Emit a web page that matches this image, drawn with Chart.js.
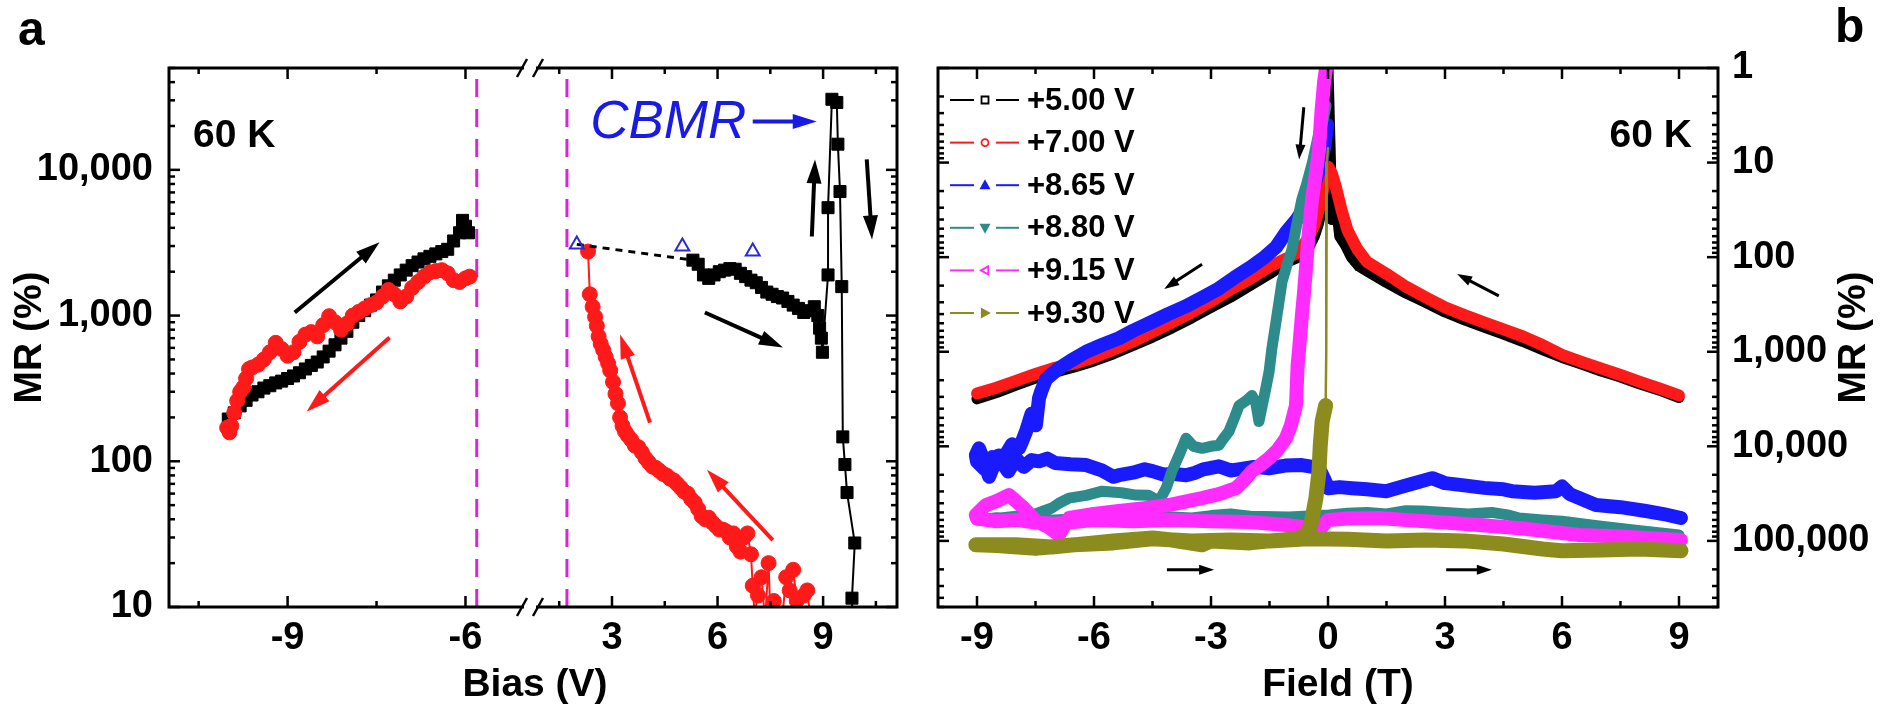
<!DOCTYPE html>
<html><head><meta charset="utf-8">
<script src="https://cdn.jsdelivr.net/npm/chart.js@4.4.1/dist/chart.umd.min.js"></script>
<style>
html,body{margin:0;padding:0;background:#fff;overflow:hidden;}
#wrap{position:relative;width:1882px;height:708px;background:#fff;}
canvas{position:absolute;top:0;}
#ca{left:0;} #cb{left:920px;}
</style></head><body>
<div id="wrap"><canvas id="ca" width="920" height="708"></canvas><canvas id="cb" width="962" height="708"></canvas></div>
<script>
// ================= Panel a data (Bias sweep, 60 K) =================
const biasBlackL = [-10.0,-9.9,-9.8,-9.7,-9.6,-9.5,-9.4,-9.3,-9.2,-9.1,-9.0,-8.9,-8.8,-8.7,-8.6,-8.5,-8.4,-8.3,-8.2,-8.1,-8.0,-7.9,-7.8,-7.7,-7.6,-7.5,-7.4,-7.3,-7.2,-7.1,-7.0,-6.9,-6.8,-6.7,-6.6,-6.5,-6.4,-6.3,-6.2,-6.1,-6.05,-6.0,-5.95];
const mrBlackL   = [195,215,240,262,285,300,318,330,345,355,370,385,405,430,455,480,520,570,630,700,780,900,1000,1080,1180,1280,1450,1600,1750,1900,2050,2200,2330,2450,2550,2650,2750,2850,3250,3700,4500,4100,3700];
const biasRedL = [-10.02,-9.98,-9.95,-9.9,-9.85,-9.8,-9.75,-9.7,-9.65,-9.6,-9.5,-9.4,-9.3,-9.2,-9.1,-9.0,-8.9,-8.8,-8.7,-8.6,-8.5,-8.4,-8.3,-8.2,-8.1,-8.0,-7.9,-7.8,-7.7,-7.6,-7.5,-7.4,-7.3,-7.2,-7.1,-7.0,-6.9,-6.8,-6.7,-6.6,-6.5,-6.4,-6.3,-6.2,-6.1,-6.0,-5.93];
const mrRedL   = [170,158,175,215,260,300,320,370,430,440,460,500,560,650,590,530,560,660,740,770,720,860,990,900,800,880,1000,1060,1120,1180,1230,1350,1500,1400,1250,1350,1550,1700,1850,1980,2020,2050,1950,1750,1700,1800,1850];
const biasBlackR = [5.3,5.45,5.6,5.75,5.9,6.05,6.2,6.35,6.5,6.65,6.8,6.95,7.1,7.25,7.4,7.55,7.7,7.85,8.0,8.15,8.3,8.45,8.6,8.75,8.85,8.9,8.95,8.98,9.14,9.14,9.25,9.39,9.42,9.48,9.53,9.56,9.62,9.68,9.9,9.82,9.85];
const mrBlackR   = [2400,2250,1900,1800,1900,2000,2050,2100,2080,1950,1850,1750,1680,1560,1450,1400,1350,1320,1250,1180,1120,1050,1080,1150,1000,820,700,560,1900,5500,30500,29000,15000,7100,1580,147,95,61,27.5,11.5,6];
const biasRedR = [2.32,2.37,2.45,2.52,2.57,2.62,2.68,2.75,2.82,2.89,2.95,3.03,3.1,3.17,3.23,3.3,3.37,3.45,3.55,3.65,3.75,3.85,3.95,4.05,4.15,4.25,4.35,4.45,4.55,4.65,4.75,4.85,4.95,5.05,5.15,5.25,5.35,5.45,5.55,5.65,5.75,5.85,5.95,6.05,6.15,6.25,6.35,6.45,6.55,6.65,6.75,6.85,6.95,7.0,7.05,7.15,7.25,7.35,7.45,7.5,7.6,7.85,7.95,8.05,8.15,8.25,8.35,8.45,8.55,8.65];
const mrRedR   = [2750,1400,1150,980,850,720,640,580,520,470,420,350,290,250,200,175,160,150,140,128,125,115,105,98,92,90,86,82,80,76,74,70,66,62,60,55,52,47,42,40,41,38,36,34,34,33,30,32,26,24,30,32,23,14,9,12,16,8,20,9,11,9,16,13,18,11,9,12,13,8];
const biasTri = [2.0,5.0,7.0];
const mrTri   = [3080,2980,2750];
const biasGuide = [2.0,5.3];
const mrGuide   = [3080,2400];
const biasDividers = [-5.81,1.72];
const biasTicksL = [-10.5,-9,-7.5,-6];
const biasLabelsL = [-9,-6];
const biasTicksR = [1.5,3,4.5,6,7.5,9,10.5];
const biasLabelsR = [3,6,9];
const mrDecadesA = [10,100,1000,10000];

// ================= Panel b data (Field sweep, 60 K) =================
const legendLabels = ['+5.00 V','+7.00 V','+8.65 V','+8.80 V','+9.15 V','+9.30 V'];
const field500 = [-9.0,-8.5,-8.0,-7.5,-7.0,-6.5,-6.0,-5.5,-5.0,-4.5,-4.0,-3.5,-3.0,-2.5,-2.0,-1.5,-1.0,-0.75,-0.5,-0.35,-0.25,-0.15,-0.05,0.0,0.05,0.1,0.2,0.3,0.45,0.6,0.8,1.0,1.5,2.0,2.5,3.0,3.5,4.0,4.5,5.0,5.5,6.0,6.5,7.0,7.5,8.0,8.5,9.0];
const mr500    = [3150,2700,2250,1900,1650,1450,1250,1050,860,700,560,440,340,265,200,150,110,100,80,60,45,30,8,1,6,40,25,60,75,100,125,140,185,240,300,380,460,550,650,780,950,1150,1350,1600,1850,2200,2550,3050];
const field700 = [-9.0,-8.5,-8.0,-7.5,-7.0,-6.5,-6.0,-5.5,-5.0,-4.5,-4.0,-3.5,-3.0,-2.5,-2.0,-1.5,-1.0,-0.75,-0.5,-0.35,-0.2,-0.1,0.0,0.1,0.2,0.35,0.5,0.75,1.0,1.5,2.0,2.5,3.0,3.5,4.0,4.5,5.0,5.5,6.0,6.5,7.0,7.5,8.0,8.5,9.0];
const mr700    = [2770,2400,2030,1720,1480,1330,1150,950,780,620,490,385,295,220,170,126,100,88,62,46,28,17,11,13,18,32,52,82,112,150,205,265,340,410,490,580,690,850,1080,1280,1500,1760,2080,2450,2900];
const field865 = [-0.02,-0.1,-0.2,-0.35,-0.56,-0.8,-1.08,-1.33,-1.6,-1.95,-2.4,-2.8,-3.2,-3.64,-4.1,-4.5,-5.0,-5.36,-5.8,-6.2,-6.6,-6.9,-7.1,-7.23,-7.35,-7.41,-7.49,-7.6,-7.74,-7.85,-7.92,-8.1,-8.3,-8.44,-8.6,-8.69,-8.8,-8.95,-9.03,
  -9.0,-8.8,-8.6,-8.4,-8.2,-8.0,-7.8,-7.6,-7.41,-7.2,-7.0,-6.6,-6.2,-5.8,-5.5,-5.36,-5.0,-4.7,-4.5,-4.2,-4.0,-3.64,-3.4,-3.2,-2.8,-2.5,-2.3,-1.9,-1.51,-1.1,-0.67,-0.4,-0.23,-0.1,0.0,0.3,0.62,1.0,1.49,2.0,2.3,2.67,3.0,3.44,4.0,4.5,4.72,5.3,5.85,6.0,6.2,6.87,7.5,8.15,8.6,9.05];
const mr865    = [4,7,11,17,28,40,55,78,98,125,165,215,265,330,400,480,600,720,850,1000,1250,1500,1750,1950,2600,3100,6000,4500,6900,9000,10500,9500,13000,12500,17000,21000,15000,10500,12400,
  14500,17500,13000,14000,18500,13500,16500,14000,14400,13500,15000,15500,15800,18000,21000,20200,19000,17500,18300,20000,19500,20200,19000,17500,16250,18000,17500,16500,17050,16000,15800,16500,17050,22000,27700,27000,27700,28500,29800,26000,24000,21700,24500,25700,27500,28500,29800,31000,29800,26500,32000,41800,44000,48300,52000,57300];
const field880 = [-0.05,-0.12,-0.23,-0.4,-0.55,-0.67,-0.8,-0.92,-1.05,-1.18,-1.31,-1.44,-1.51,-1.6,-1.77,-1.85,-1.95,-2.1,-2.28,-2.4,-2.54,-2.7,-2.8,-3.0,-3.23,-3.45,-3.64,-3.82,-4.0,-4.15,-4.33,-4.6,-4.92,-5.3,-5.79,-6.2,-6.64,-6.9,-7.08,-7.5,-8.0,-8.5,-9.0,
  -8.5,-8.0,-7.0,-6.0,-5.0,-4.0,-3.49,-3.0,-2.5,-2.0,-1.0,0.03,0.5,1.0,1.5,2.0,2.41,3.0,3.6,4.2,4.6,4.9,5.5,6.0,7.0,8.0,9.0];
const mr880    = [2.5,3.5,4.8,10,17,24.5,45,82,120,183,418,930,1623,2500,5460,3500,2900,3300,3700,5000,6950,8500,9760,10000,10490,10000,8240,12440,18300,27700,37900,33000,32800,31000,29800,33000,35300,40000,44900,52000,55000,58000,60000,
  57000,58000,60000,57000,58000,56000,57300,54000,52000,55000,56000,53200,51000,50000,52000,48000,48300,50000,52000,50000,53000,57300,60000,62000,70000,78000,86500];
const field915 = [-0.05,-0.1,-0.17,-0.23,-0.32,-0.41,-0.5,-0.56,-0.62,-0.67,-0.74,-0.78,-0.82,-0.95,-1.08,-1.3,-1.51,-1.75,-1.95,-2.2,-2.36,-2.8,-3.23,-3.6,-4.08,-4.7,-5.36,-6.0,-6.64,-6.9,-7.2,-7.49,-7.8,-8.18,-8.5,-8.77,-9.03,
  -9.0,-8.5,-8.0,-7.5,-7.0,-6.0,-5.0,-4.0,-3.0,-2.0,-1.08,-0.6,-0.41,-0.2,0.0,0.5,1.31,2.0,3.0,3.87,5.0,6.44,7.5,8.5,9.05];
const mr915    = [1.0,1.4,3,7.3,14,24.5,60,124,250,418,930,1404,3700,6000,8240,11000,13400,16000,18300,24000,27700,32000,35300,38000,41800,45000,48300,52000,57300,86500,70000,62000,45000,32800,38000,41800,53200,
  58000,62000,60000,64000,66000,60000,62000,60000,62000,63000,68000,72000,78500,75000,60000,58000,57300,60000,64000,68000,74000,86500,90000,95000,97600];
const field930 = [0.0,-0.03,-0.04,-0.05,-0.06,-0.15,-0.2,-0.23,-0.31,-0.44,-0.56,-0.8,-1.5,-2.0,-3.0,-3.23,-4.0,-4.5,-5.5,-6.0,-7.08,-8.0,-9.03,
  -8.5,-7.5,-6.5,-5.5,-4.5,-3.5,-2.5,-1.5,-0.5,0.5,1.5,2.5,3.5,4.5,5.5,6.0,7.0,8.0,9.05];
const mr930    = [7,10,100,1000,3700,5460,10000,18300,35300,68000,86500,95000,100000,105000,100000,110000,98000,93000,100000,105000,116000,110000,110000,
  112000,120000,110000,105000,95000,100000,98000,100000,95000,96000,100000,98000,100000,108000,122000,127000,125000,122000,127000];
const fieldTicks = [-9,-7.5,-6,-4.5,-3,-1.5,0,1.5,3,4.5,6,7.5,9];
const fieldLabels = [-9,-6,-3,0,3,6,9];
const mrDecadesB = [1,10,100,1000,10000,100000];

// ================= helpers =================
const FONT = "'Liberation Sans', Arial, Helvetica, sans-serif";
Chart.defaults.font.family = FONT;
Chart.defaults.color = '#000';
const pts = (xs, ys) => xs.map((x, i) => ({x, y: ys[i]}));
function logTicks(decades, top) { const out = []; decades.forEach(d => { for (let k = 1; k <= 9; k++) { const v = d * k; if (v <= top * 1.0001) out.push(v); } }); return out; }
const yTicksA = logTicks(mrDecadesA, 50000);
const yTicksB = logTicks(mrDecadesB, 500000);
const fmt = v => v.toLocaleString('en-US');
function line(ctx, x1, y1, x2, y2) { ctx.beginPath(); ctx.moveTo(x1, y1); ctx.lineTo(x2, y2); ctx.stroke(); }
function arrow(ctx, x0, y0, x1, y1, color, lw, hl, hw) {
  const a = Math.atan2(y1 - y0, x1 - x0);
  const bx = x1 - hl * Math.cos(a), by = y1 - hl * Math.sin(a);
  ctx.save(); ctx.strokeStyle = color; ctx.fillStyle = color; ctx.lineWidth = lw; ctx.lineCap = 'butt';
  line(ctx, x0, y0, bx + Math.cos(a), by + Math.sin(a));
  ctx.beginPath(); ctx.moveTo(x1, y1);
  ctx.lineTo(bx + hw / 2 * Math.sin(a), by - hw / 2 * Math.cos(a));
  ctx.lineTo(bx - hw / 2 * Math.sin(a), by + hw / 2 * Math.cos(a));
  ctx.closePath(); ctx.fill(); ctx.restore();
}
const tickFont = {size: 38, weight: 'bold', family: FONT};
const MAG = '#d22ad2';

// ================= Panel a =================
const arrowsA = [
  {ax: 'xL', p: [-8.88, 1050, -7.45, 3180], c: '#000'},
  {ax: 'xL', p: [-7.28, 706, -8.68, 219], c: '#ff1a1a'},
  {ax: 'xR', p: [8.68, 3490, 8.77, 11800], c: '#000'},
  {ax: 'xR', p: [10.24, 11800, 10.39, 3330], c: '#000'},
  {ax: 'xR', p: [5.64, 1050, 7.86, 603], c: '#000'},
  {ax: 'xR', p: [4.08, 184, 3.23, 740], c: '#ff1a1a'},
  {ax: 'xR', p: [7.57, 28.8, 5.7, 87.5], c: '#ff1a1a'},
  {ax: 'xR', p: [7.0, 21500, 8.82, 21500], c: '#1a1ae6'}
];
const plugA = {
  id: 'frameA',
  afterDraw(chart) {
    const {ctx, chartArea: {left, right, top, bottom}, scales} = chart;
    ctx.save();
    arrowsA.forEach(a => {
      const sx = scales[a.ax], sy = scales.y;
      arrow(ctx, sx.getPixelForValue(a.p[0]), sy.getPixelForValue(a.p[1]), sx.getPixelForValue(a.p[2]), sy.getPixelForValue(a.p[3]), a.c, 4, 24, 15);
    });
    ctx.strokeStyle = '#000'; ctx.lineWidth = 3;
    ctx.strokeRect(left, top, right - left, bottom - top);
    ctx.lineWidth = 2.5;
    [['xL', biasLabelsL], ['xR', biasLabelsR]].forEach(([id, labs]) => {
      const s = scales[id];
      s.ticks.forEach(t => { const px = s.getPixelForValue(t.value); const L = labs.includes(t.value) ? 11 : 6; line(ctx, px, bottom, px, bottom - L); line(ctx, px, top, px, top + L); });
    });
    scales.y.ticks.forEach(t => { const py = scales.y.getPixelForValue(t.value); const L = mrDecadesA.includes(t.value) ? 11 : 6; line(ctx, left, py, left + L, py); line(ctx, right, py, right - L, py); });
    const bx = scales.xL.right;
    [top, bottom].forEach(yy => {
      ctx.fillStyle = '#fff'; ctx.fillRect(bx - 6, yy - 3, 12, 6);
      ctx.strokeStyle = '#000'; ctx.lineWidth = 2.5;
      line(ctx, bx - 13, yy + 9, bx - 3, yy - 9); line(ctx, bx + 3, yy + 9, bx + 13, yy - 9);
    });
    ctx.fillStyle = '#000'; ctx.textBaseline = 'alphabetic';
    ctx.font = `bold 39px ${FONT}`; ctx.textAlign = 'left';
    ctx.fillText('60 K', left + 24, top + 79);
    ctx.font = `bold 48px ${FONT}`; ctx.fillText('a', 18, 45);
    ctx.font = `bold 39px ${FONT}`; ctx.textAlign = 'center';
    ctx.fillText('Bias (V)', (left + right) / 2 + 2, 696);
    ctx.save(); ctx.translate(30, (top + bottom) / 2); ctx.rotate(-Math.PI / 2); ctx.textBaseline = 'middle';
    ctx.fillText('MR (%)', 0, 0); ctx.restore();
    ctx.fillStyle = '#1a1ae6'; ctx.font = `italic 53px ${FONT}`; ctx.textAlign = 'left';
    ctx.fillText('CBMR', scales.xR.getPixelForValue(2.38), top + 70);
    ctx.restore();
  }
};
const dsA = [
  {data: pts([biasDividers[0], biasDividers[0]], [10, 50000]), xAxisID: 'xL', yAxisID: 'y', showLine: true, borderColor: MAG, borderWidth: 3, borderDash: [18, 12], pointRadius: 0, order: 9},
  {data: pts([biasDividers[1], biasDividers[1]], [10, 50000]), xAxisID: 'xR', yAxisID: 'y', showLine: true, borderColor: MAG, borderWidth: 3, borderDash: [18, 12], pointRadius: 0, order: 9},
  {data: pts(biasBlackL, mrBlackL), xAxisID: 'xL', yAxisID: 'y', showLine: true, borderColor: '#000', borderWidth: 2, pointStyle: 'rect', pointRadius: 8.5, pointBackgroundColor: '#000', pointBorderColor: '#000', pointBorderWidth: 1, order: 5},
  {data: pts(biasRedL, mrRedL), xAxisID: 'xL', yAxisID: 'y', showLine: true, borderColor: '#ff1a1a', borderWidth: 2, pointStyle: 'circle', pointRadius: 7.5, pointBackgroundColor: '#ff1a1a', pointBorderColor: '#ff1a1a', pointBorderWidth: 1, order: 4},
  {data: pts(biasBlackR, mrBlackR), xAxisID: 'xR', yAxisID: 'y', showLine: true, borderColor: '#000', borderWidth: 2, pointStyle: 'rect', pointRadius: 8.5, pointBackgroundColor: '#000', pointBorderColor: '#000', pointBorderWidth: 1, order: 5},
  {data: pts(biasRedR, mrRedR), xAxisID: 'xR', yAxisID: 'y', showLine: true, borderColor: '#ff1a1a', borderWidth: 2, pointStyle: 'circle', pointRadius: 7.5, pointBackgroundColor: '#ff1a1a', pointBorderColor: '#ff1a1a', pointBorderWidth: 1, order: 4},
  {data: pts(biasGuide, mrGuide), xAxisID: 'xR', yAxisID: 'y', showLine: true, borderColor: '#000', borderWidth: 3, borderDash: [7, 6], pointRadius: 0, order: 2},
  {data: pts(biasTri, mrTri), xAxisID: 'xR', yAxisID: 'y', showLine: false, pointStyle: 'triangle', pointRadius: 8, pointBackgroundColor: 'rgba(255,255,255,0)', pointBorderColor: '#2a2ad8', pointBorderWidth: 2, order: 1}
];
const xCommon = {type: 'linear', position: 'bottom', stack: 'bias', grid: {display: false, drawTicks: false, tickLength: 0}, border: {display: false}, afterFit(s) { s.height = 101; }};
new Chart(document.getElementById('ca'), {
  type: 'scatter',
  data: {datasets: dsA},
  options: {
    responsive: false, animation: false, devicePixelRatio: 1,
    layout: {padding: {left: 0, right: 23, top: 68, bottom: 0}},
    plugins: {legend: {display: false}, tooltip: {enabled: false}},
    scales: {
      xL: Object.assign({}, xCommon, {stackWeight: 361, min: -11, max: -4.912,
        afterBuildTicks(s) { s.ticks = biasTicksL.map(v => ({value: v})); },
        ticks: {autoSkip: false, maxRotation: 0, padding: 9, font: tickFont, color: '#000', callback: v => biasLabelsL.includes(v) ? String(v) : ''}}),
      xR: Object.assign({}, xCommon, {stackWeight: 367, min: 0.67, max: 11.1,
        afterBuildTicks(s) { s.ticks = biasTicksR.map(v => ({value: v})); },
        ticks: {autoSkip: false, maxRotation: 0, padding: 9, font: tickFont, color: '#000', callback: v => biasLabelsR.includes(v) ? String(v) : ''}}),
      y: {type: 'logarithmic', position: 'left', min: 10, max: 50000, grid: {display: false, drawTicks: false, tickLength: 0}, border: {display: false},
        afterFit(s) { s.width = 169; },
        afterBuildTicks(s) { s.ticks = yTicksA.map(v => ({value: v})); },
        ticks: {autoSkip: false, padding: 16, font: tickFont, color: '#000', callback: v => mrDecadesA.includes(v) ? fmt(v) : ''}}
    }
  },
  plugins: [plugA]
});

// ================= Panel b =================
const colorsB = ['#000000', '#ff1a1a', '#1a1aff', '#2e8b8b', '#ff2bff', '#8c8c1e'];
const shapesB = ['rect', 'circle', 'up', 'down', 'left', 'right'];
const arrowsB = [
  [-0.62, 2.6, -0.74, 9.3], [-3.23, 118.5, -4.2, 217], [4.38, 257, 3.31, 151], [-4.13, 202000, -2.92, 202000], [3.03, 202000, 4.2, 202000]
];
function marker(ctx, shape, x, y, r, color) {
  ctx.save(); ctx.strokeStyle = color; ctx.fillStyle = color; ctx.lineWidth = 1.8; ctx.beginPath();
  if (shape === 'rect') ctx.rect(x - r, y - r, 2 * r, 2 * r);
  else if (shape === 'circle') ctx.arc(x, y, r, 0, 2 * Math.PI);
  else if (shape === 'up') { ctx.moveTo(x, y - r); ctx.lineTo(x + r, y + r * 0.8); ctx.lineTo(x - r, y + r * 0.8); ctx.closePath(); }
  else if (shape === 'down') { ctx.moveTo(x, y + r); ctx.lineTo(x + r, y - r * 0.8); ctx.lineTo(x - r, y - r * 0.8); ctx.closePath(); }
  else if (shape === 'left') { ctx.moveTo(x - r, y); ctx.lineTo(x + r * 0.8, y - r); ctx.lineTo(x + r * 0.8, y + r); ctx.closePath(); }
  else { ctx.moveTo(x + r, y); ctx.lineTo(x - r * 0.8, y - r); ctx.lineTo(x - r * 0.8, y + r); ctx.closePath(); }
  if (shape === 'up' || shape === 'down' || shape === 'right') ctx.fill();
  ctx.stroke(); ctx.restore();
}
const plugB = {
  id: 'frameB',
  afterDraw(chart) {
    const {ctx, chartArea: {left, right, top, bottom}, scales} = chart;
    const sx = scales.x, sy = scales.y;
    ctx.save();
    arrowsB.forEach(p => arrow(ctx, sx.getPixelForValue(p[0]), sy.getPixelForValue(p[1]), sx.getPixelForValue(p[2]), sy.getPixelForValue(p[3]), '#000', 3, 15, 10));
    ctx.strokeStyle = '#000'; ctx.lineWidth = 3;
    ctx.strokeRect(left, top, right - left, bottom - top);
    ctx.lineWidth = 2.5;
    sx.ticks.forEach(t => { const px = sx.getPixelForValue(t.value); const L = fieldLabels.includes(t.value) ? 11 : 6; line(ctx, px, bottom, px, bottom - L); line(ctx, px, top, px, top + L); });
    sy.ticks.forEach(t => { const py = sy.getPixelForValue(t.value); const L = mrDecadesB.includes(t.value) ? 11 : 6; line(ctx, left, py, left + L, py); line(ctx, right, py, right - L, py); });
    ctx.font = `bold 31px ${FONT}`; ctx.textBaseline = 'middle'; ctx.textAlign = 'left';
    legendLabels.forEach((lab, i) => {
      const y = top + 32 + i * 42.6, c = colorsB[i];
      ctx.strokeStyle = c; ctx.lineWidth = 2;
      line(ctx, left + 12, y, left + 36, y); line(ctx, left + 58, y, left + 81, y);
      marker(ctx, shapesB[i], left + 47, y, i < 2 ? 3.5 : 4, c);
      ctx.fillStyle = '#000'; ctx.fillText(lab, left + 89, y + 1);
    });
    ctx.fillStyle = '#000'; ctx.textBaseline = 'alphabetic';
    ctx.font = `bold 39px ${FONT}`; ctx.textAlign = 'right';
    ctx.fillText('60 K', left + 754, top + 79);
    ctx.textAlign = 'center';
    ctx.fillText('Field (T)', (left + right) / 2 + 10, 696);
    ctx.font = `bold 48px ${FONT}`; ctx.textAlign = 'left'; ctx.fillText('b', 915, 42);
    ctx.font = `bold 39px ${FONT}`; ctx.textAlign = 'center';
    ctx.save(); ctx.translate(934, (top + bottom) / 2); ctx.rotate(-Math.PI / 2); ctx.textBaseline = 'middle';
    ctx.fillText('MR (%)', 0, 0); ctx.restore();
    ctx.restore();
  }
};
const seriesB = [[field500, mr500], [field700, mr700], [field865, mr865], [field880, mr880], [field915, mr915], [field930, mr930]];
const widthsB = [11, 12, 14, 11, 14, 15];
const ordersB = [5, 4, 3, 2, 1, 0];
const dsB = seriesB.map((s, i) => ({
  label: legendLabels[i],
  data: pts(s[0], s[1]), xAxisID: 'x', yAxisID: 'y', showLine: true,
  borderColor: colorsB[i], borderWidth: widthsB[i], borderJoinStyle: 'round', borderCapStyle: 'round',
  pointRadius: i === 0 ? 4.5 : 0, pointStyle: 'rect', pointBackgroundColor: 'rgba(255,255,255,0)', pointBorderColor: colorsB[i], pointBorderWidth: 1.5,
  order: ordersB[i],
  segment: i === 5 ? {borderWidth: c => (Math.abs(c.p0.parsed.x) < 0.08 && Math.abs(c.p1.parsed.x) < 0.08) ? 2.5 : undefined} : undefined
}));
new Chart(document.getElementById('cb'), {
  type: 'scatter',
  data: {datasets: dsB},
  options: {
    responsive: false, animation: false, devicePixelRatio: 1,
    layout: {padding: {left: 18, right: 0, top: 68, bottom: 0}},
    plugins: {legend: {display: false}, tooltip: {enabled: false}},
    scales: {
      x: {type: 'linear', position: 'bottom', min: -10, max: 10, grid: {display: false, drawTicks: false, tickLength: 0}, border: {display: false},
        afterFit(s) { s.height = 101; },
        afterBuildTicks(s) { s.ticks = fieldTicks.map(v => ({value: v})); },
        ticks: {autoSkip: false, maxRotation: 0, padding: 9, font: tickFont, color: '#000', callback: v => fieldLabels.includes(v) ? String(v) : ''}},
      y: {type: 'logarithmic', position: 'right', reverse: true, min: 1, max: 500000, grid: {display: false, drawTicks: false, tickLength: 0}, border: {display: false},
        afterFit(s) { s.width = 164; },
        afterBuildTicks(s) { s.ticks = yTicksB.map(v => ({value: v})); },
        ticks: {autoSkip: false, padding: 14, font: tickFont, color: '#000', callback: v => mrDecadesB.includes(v) ? fmt(v) : ''}}
    }
  },
  plugins: [plugB]
});
</script></body></html>
